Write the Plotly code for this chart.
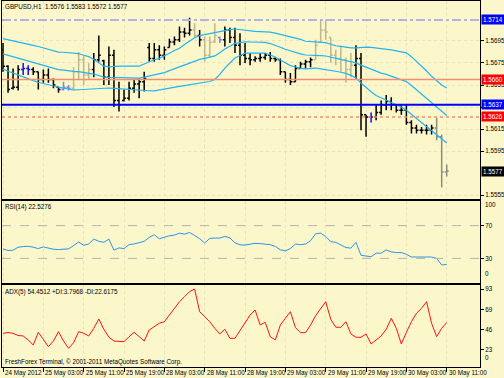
import plotly.graph_objects as go
from plotly.subplots import make_subplots

# ---------------- data ----------------
time_labels = ["24 May 2012", "25 May 03:00", "25 May 11:00", "25 May 19:00",
               "28 May 03:00", "28 May 11:00", "28 May 19:00", "29 May 03:00",
               "29 May 11:00", "29 May 19:00", "30 May 03:00", "30 May 11:00"]
label_bars = [0, 8, 16, 24, 32, 40, 48, 56, 64, 72, 80, 88]

opens = [1.5687, 1.5672, 1.5652, 1.5653, 1.5669, 1.5670, 1.5669, 1.5667, 1.5660, 1.5664,
         1.5660, 1.5653, 1.5651, 1.5653, 1.5652, 1.5667, 1.5678, 1.5664, 1.5669, 1.5678,
         1.5677, 1.5662, 1.5682, 1.5641, 1.5641, 1.5643, 1.5652, 1.5656, 1.5658, 1.5689,
         1.5679, 1.5687, 1.5682, 1.5689, 1.5694, 1.5696, 1.5703, 1.5702, 1.5705, 1.5700,
         1.5696, 1.5682, 1.5694, 1.5698, 1.5696, 1.5705, 1.5698, 1.5691, 1.5682, 1.5679,
         1.5678, 1.5679, 1.5680, 1.5682, 1.5679, 1.5678, 1.5667, 1.5660, 1.5658, 1.5670,
         1.5674, 1.5676, 1.5678, 1.5694, 1.5705, 1.5698, 1.5682, 1.5679, 1.5678, 1.5669,
         1.5673, 1.5679, 1.5628, 1.5626, 1.5626, 1.5630, 1.5637, 1.5640, 1.5637, 1.5632,
         1.5632, 1.5621, 1.5616, 1.5614, 1.5614, 1.5614, 1.5616, 1.5608, 1.5576]
highs = [1.5693, 1.5673, 1.5670, 1.5673, 1.5675, 1.5673, 1.5671, 1.5667, 1.5669, 1.5670,
         1.5661, 1.5653, 1.5658, 1.5655, 1.5671, 1.5685, 1.5682, 1.5675, 1.5684, 1.5700,
         1.5678, 1.5690, 1.5687, 1.5658, 1.5651, 1.5658, 1.5660, 1.5661, 1.5667, 1.5693,
         1.5693, 1.5691, 1.5690, 1.5697, 1.5699, 1.5708, 1.5707, 1.5716, 1.5711, 1.5705,
         1.5699, 1.5699, 1.5711, 1.5699, 1.5708, 1.5707, 1.5707, 1.5702, 1.5693, 1.5684,
         1.5681, 1.5684, 1.5684, 1.5685, 1.5680, 1.5679, 1.5667, 1.5666, 1.5673, 1.5676,
         1.5678, 1.5680, 1.5696, 1.5714, 1.5714, 1.5698, 1.5687, 1.5690, 1.5680, 1.5684,
         1.5691, 1.5684, 1.5628, 1.5630, 1.5637, 1.5641, 1.5646, 1.5644, 1.5637, 1.5637,
         1.5637, 1.5623, 1.5619, 1.5617, 1.5619, 1.5619, 1.5625, 1.5610, 1.5583]
lows = [1.5667, 1.5648, 1.5651, 1.5650, 1.5664, 1.5664, 1.5664, 1.5651, 1.5657, 1.5657,
        1.5652, 1.5648, 1.5650, 1.5650, 1.5651, 1.5660, 1.5655, 1.5660, 1.5662, 1.5676,
        1.5655, 1.5655, 1.5635, 1.5631, 1.5640, 1.5641, 1.5648, 1.5643, 1.5649, 1.5676,
        1.5676, 1.5678, 1.5678, 1.5689, 1.5691, 1.5694, 1.5698, 1.5700, 1.5698, 1.5690,
        1.5676, 1.5680, 1.5693, 1.5693, 1.5690, 1.5693, 1.5684, 1.5673, 1.5675, 1.5673,
        1.5676, 1.5676, 1.5678, 1.5676, 1.5676, 1.5664, 1.5657, 1.5655, 1.5658, 1.5670,
        1.5670, 1.5671, 1.5678, 1.5694, 1.5696, 1.5675, 1.5673, 1.5667, 1.5657, 1.5662,
        1.5661, 1.5614, 1.5608, 1.5621, 1.5623, 1.5628, 1.5632, 1.5632, 1.5630, 1.5628,
        1.5619, 1.5611, 1.5611, 1.5611, 1.5610, 1.5610, 1.5605, 1.5562, 1.5572]
closes = [1.5672, 1.5651, 1.5653, 1.5669, 1.5670, 1.5669, 1.5667, 1.5660, 1.5664, 1.5660,
          1.5655, 1.5651, 1.5653, 1.5652, 1.5667, 1.5678, 1.5664, 1.5669, 1.5678, 1.5682,
          1.5662, 1.5682, 1.5641, 1.5637, 1.5643, 1.5652, 1.5656, 1.5658, 1.5661, 1.5679,
          1.5687, 1.5682, 1.5687, 1.5694, 1.5696, 1.5703, 1.5702, 1.5705, 1.5700, 1.5696,
          1.5682, 1.5694, 1.5700, 1.5696, 1.5705, 1.5698, 1.5691, 1.5682, 1.5679, 1.5678,
          1.5679, 1.5680, 1.5682, 1.5679, 1.5678, 1.5667, 1.5660, 1.5658, 1.5670, 1.5674,
          1.5676, 1.5678, 1.5691, 1.5705, 1.5703, 1.5682, 1.5679, 1.5678, 1.5669, 1.5673,
          1.5679, 1.5628, 1.5626, 1.5626, 1.5630, 1.5637, 1.5640, 1.5637, 1.5632, 1.5632,
          1.5621, 1.5616, 1.5614, 1.5614, 1.5614, 1.5616, 1.5608, 1.5576, 1.5577]

bb_upper = [1.56971, 1.56962, 1.56953, 1.56944, 1.56933, 1.56922, 1.56910, 1.56899, 1.56887, 1.56873,
            1.56860, 1.56849, 1.56847, 1.56844, 1.56841, 1.56835, 1.56820, 1.56807, 1.56782, 1.56755,
            1.56721, 1.56714, 1.56719, 1.56722, 1.56722, 1.56722, 1.56722, 1.56722, 1.56741, 1.56763,
            1.56779, 1.56792, 1.56813, 1.56838, 1.56863, 1.56884, 1.56917, 1.56946, 1.56978, 1.56998,
            1.57008, 1.57018, 1.57028, 1.57038, 1.57049, 1.57053, 1.57058, 1.57051, 1.57044, 1.57039,
            1.57036, 1.57034, 1.57032, 1.57029, 1.57020, 1.57009, 1.57000, 1.56989, 1.56976, 1.56964,
            1.56947, 1.56943, 1.56940, 1.56936, 1.56934, 1.56920, 1.56906, 1.56900, 1.56892, 1.56887,
            1.56887, 1.56891, 1.56894, 1.56891, 1.56887, 1.56882, 1.56878, 1.56869, 1.56860, 1.56851,
            1.56842, 1.56807, 1.56765, 1.56722, 1.56677, 1.56629, 1.56589, 1.56550, 1.56523]
bb_middle = [1.56832, 1.56819, 1.56805, 1.56792, 1.56778, 1.56764, 1.56750, 1.56737, 1.56725, 1.56712,
             1.56700, 1.56690, 1.56685, 1.56678, 1.56673, 1.56671, 1.56665, 1.56660, 1.56649, 1.56636,
             1.56621, 1.56619, 1.56620, 1.56619, 1.56617, 1.56615, 1.56614, 1.56612, 1.56621, 1.56631,
             1.56638, 1.56648, 1.56663, 1.56680, 1.56697, 1.56711, 1.56731, 1.56749, 1.56769, 1.56782,
             1.56792, 1.56800, 1.56814, 1.56843, 1.56877, 1.56902, 1.56927, 1.56935, 1.56942, 1.56940,
             1.56938, 1.56937, 1.56936, 1.56926, 1.56912, 1.56893, 1.56874, 1.56858, 1.56845, 1.56833,
             1.56822, 1.56822, 1.56822, 1.56817, 1.56813, 1.56802, 1.56791, 1.56783, 1.56774, 1.56762,
             1.56751, 1.56730, 1.56711, 1.56690, 1.56671, 1.56658, 1.56646, 1.56630, 1.56616, 1.56601,
             1.56581, 1.56545, 1.56506, 1.56467, 1.56427, 1.56387, 1.56348, 1.56306, 1.56274]
bb_lower = [1.56693, 1.56675, 1.56657, 1.56639, 1.56623, 1.56606, 1.56590, 1.56575, 1.56562, 1.56551,
            1.56540, 1.56530, 1.56522, 1.56512, 1.56505, 1.56507, 1.56510, 1.56513, 1.56516, 1.56517,
            1.56520, 1.56523, 1.56520, 1.56516, 1.56512, 1.56508, 1.56505, 1.56502, 1.56500, 1.56498,
            1.56496, 1.56503, 1.56512, 1.56521, 1.56530, 1.56537, 1.56545, 1.56551, 1.56559, 1.56566,
            1.56575, 1.56582, 1.56600, 1.56647, 1.56704, 1.56750, 1.56795, 1.56818, 1.56840, 1.56840,
            1.56840, 1.56840, 1.56840, 1.56822, 1.56804, 1.56776, 1.56748, 1.56726, 1.56713, 1.56701,
            1.56697, 1.56701, 1.56704, 1.56697, 1.56691, 1.56684, 1.56675, 1.56666, 1.56655, 1.56637,
            1.56614, 1.56568, 1.56527, 1.56489, 1.56455, 1.56434, 1.56413, 1.56391, 1.56371, 1.56350,
            1.56320, 1.56283, 1.56247, 1.56211, 1.56177, 1.56144, 1.56107, 1.56062, 1.56024]

rsi = [41.6, 39.6, 40.0, 43.6, 44.4, 44.8, 43.6, 42.0, 44.0, 42.4,
       41.2, 40.8, 40.8, 41.6, 45.6, 50.0, 46.0, 47.6, 53.6, 50.8,
       49.6, 53.6, 40.0, 42.8, 42.0, 46.8, 47.6, 48.8, 50.8, 55.6,
       58.8, 54.0, 56.0, 57.6, 58.4, 60.8, 59.6, 61.6, 58.0, 54.0,
       48.8, 54.4, 54.8, 54.8, 56.8, 55.0, 49.0, 46.5, 46.3, 47.5,
       48.3, 48.0, 47.5, 46.7, 44.6, 40.5, 39.2, 42.0, 47.5, 46.7,
       47.5, 51.7, 60.0, 60.8, 56.7, 50.4, 49.6, 46.7, 43.3, 42.5,
       49.6, 33.8, 32.9, 32.0, 36.3, 36.3, 40.4, 37.9, 37.1, 37.1,
       35.0, 31.7, 31.7, 31.7, 32.0, 31.7, 30.0, 22.0, 22.5276]
adx = [42.0, 43.0, 42.0, 39.5, 39.0, 34.4, 28.6, 43.2, 35.2, 26.7,
       33.2, 43.9, 33.2, 24.8, 31.3, 43.9, 42.1, 39.0, 47.8, 58.5,
       46.7, 37.5, 33.2, 32.4, 32.4, 38.2, 43.2, 38.2, 33.2, 45.9,
       49.7, 53.6, 55.4, 63.1, 70.8, 78.4, 84.1, 89.9, 93.0, 66.9,
       61.2, 55.4, 47.8, 41.3, 46.7, 36.3, 36.3, 45.0, 53.6, 63.1,
       68.9, 51.6, 54.7, 38.2, 34.4, 51.6, 59.3, 66.9, 48.5, 42.8,
       42.8, 51.6, 62.3, 70.8, 78.4, 58.2, 49.0, 49.0, 55.4, 41.3,
       37.5, 37.5, 41.3, 29.8, 34.4, 39.0, 46.7, 59.3, 47.8, 29.8,
       43.2, 55.4, 65.1, 70.8, 78.4, 53.6, 38.2, 47.8, 54.4512]

price_ticks = [1.5695, 1.5675, 1.5655, 1.5635, 1.5615, 1.5595, 1.5555]
rsi_levels = [70, 30]
rsi_ticks = [70, 30]
adx_ticks = [93, 69, 46, 23]

level_lines = [1.5714, 1.5660, 1.5637, 1.5626]
current_price = 1.5577

title_text = "GBPUSD,H1  1.5576 1.5583 1.5572 1.5577"
rsi_text = "RSI(14) 22.5276"
adx_text = "ADX(5) 54.4512 +DI:3.7968 -DI:22.6175"
copyright_text = "FreshForex Terminal, © 2001-2011 MetaQuotes Software Corp."

# ---------------- styles ----------------
BG = "#FCF7CB"
FONT = "Liberation Sans, Arial, sans-serif"
FS = 6.3
bar_groups = {
    "#000000": None,  # default
    "#BDB78D": [14, 15, 16, 17, 38, 40, 41, 42, 62, 63, 64, 65, 66, 67, 68, 69],
    "#1010F0": [4, 5, 73],
    "#8080F0": [12, 13, 43],
    "#8C8C84": [86, 87, 88],
}
level_styles = [
    dict(color="#AEB4E4", width=2, dash="dashdot", box="#0000FF"),
    dict(color="#F28E72", width=1.3, dash="solid", box="#FF0000"),
    dict(color="#0000FF", width=2, dash="solid", box="#0000FF"),
    dict(color="#F28E72", width=1.3, dash="dot", box="#FF0000"),
]

n = len(closes)
xs = list(range(n))

fig = make_subplots(rows=3, cols=1, shared_xaxes=True, vertical_spacing=0)

# Bollinger bands
for band in (bb_upper, bb_middle, bb_lower):
    fig.add_trace(go.Scatter(x=xs, y=band, mode="lines",
                             line=dict(color="#22B4EE", width=1.2),
                             hoverinfo="skip", showlegend=False), row=1, col=1)

# OHLC bars by colour group
special = set()
for c, idx in bar_groups.items():
    if idx:
        special.update(idx)
for c, idx in bar_groups.items():
    if idx is None:
        idx = [i for i in xs if i not in special]
    fig.add_trace(go.Ohlc(x=idx,
                          open=[opens[i] for i in idx], high=[highs[i] for i in idx],
                          low=[lows[i] for i in idx], close=[closes[i] for i in idx],
                          increasing=dict(line=dict(color=c, width=1.5)),
                          decreasing=dict(line=dict(color=c, width=1.5)),
                          tickwidth=0.4, hoverinfo="skip", showlegend=False),
                  row=1, col=1)

# RSI
fig.add_trace(go.Scatter(x=xs, y=rsi, mode="lines", line=dict(color="#2A94EC", width=1),
                         hoverinfo="skip", showlegend=False), row=2, col=1)
# ADX
fig.add_trace(go.Scatter(x=xs, y=adx, mode="lines", line=dict(color="#FF1010", width=1),
                         hoverinfo="skip", showlegend=False), row=3, col=1)

# horizontal levels
for val, st in zip(level_lines, level_styles):
    fig.add_hline(y=val, line=dict(color=st["color"], width=st["width"], dash=st["dash"]),
                  row=1, col=1)
for lv in rsi_levels:
    fig.add_hline(y=lv, line=dict(color="#B4B4AA", width=1, dash="dash"), row=2, col=1)

# price label boxes
for val, st in zip(level_lines, level_styles):
    fig.add_annotation(xref="paper", x=1, xanchor="left", xshift=1, yref="y", y=val,
                       text="%.4f" % val, showarrow=False, bgcolor=st["box"],
                       font=dict(color="white", size=FS, family=FONT), borderpad=1)
fig.add_annotation(xref="paper", x=1, xanchor="left", xshift=1, yref="y", y=current_price,
                   text="%.4f" % current_price, showarrow=False, bgcolor="#000000",
                   font=dict(color="white", size=FS, family=FONT), borderpad=1)

# layout geometry
H_TOP, H_BOT = 1, 367
PH = H_BOT - H_TOP
def py(px):
    return (H_BOT - px) / PH

grid = dict(showgrid=True, gridcolor="#E8E2BC", griddash="dot", gridwidth=1)
axis_line = dict(showline=True, linecolor="#000000", linewidth=1, mirror=True)
tickfont = dict(size=FS, family=FONT, color="#000000")

for r in (1, 2, 3):
    fig.update_xaxes(row=r, col=1, range=[-0.2, 94.6], tickmode="array", tickvals=label_bars,
                     showticklabels=False, rangeslider_visible=False, zeroline=False,
                     automargin=False,
                     ticks="outside" if r == 3 else "", ticklen=4, tickcolor="#000",
                     **grid, **axis_line)

fig.update_yaxes(row=1, col=1, domain=[py(199), py(H_TOP)], range=[1.55516, 1.57312],
                 side="right", tickmode="array", tickvals=price_ticks, tickformat=".4f",
                 ticks="outside", ticklen=3, tickcolor="#000", tickfont=tickfont,
                 automargin=False, zeroline=False, **grid, **axis_line)
fig.update_yaxes(row=2, col=1, domain=[py(283), py(201)], range=[0, 100],
                 side="right", tickmode="array", tickvals=rsi_ticks,
                 ticks="outside", ticklen=3, tickcolor="#000", tickfont=tickfont,
                 automargin=False, zeroline=False, showgrid=False, **axis_line)
fig.update_yaxes(row=3, col=1, domain=[py(H_BOT), py(285)], range=[3.3, 97.6],
                 side="right", tickmode="array", tickvals=adx_ticks,
                 ticks="outside", ticklen=3, tickcolor="#000", tickfont=tickfont,
                 automargin=False, zeroline=False, showgrid=False, **axis_line)

# edge labels of indicator scales
for txt, ypx in (("100", 205), ("0", 279), ("0", 363)):
    fig.add_annotation(xref="paper", x=1, xanchor="left", xshift=3, yref="paper", y=py(ypx),
                       text=txt, showarrow=False, font=tickfont)

# captions
for txt, ypx in ((title_text, 6), (rsi_text, 207), (adx_text, 292), (copyright_text, 362)):
    fig.add_annotation(xref="paper", x=0, xanchor="left", xshift=1, yref="paper", y=py(ypx),
                       yanchor="middle", text=txt, showarrow=False, font=tickfont)

# time labels
for b, txt in zip(label_bars, time_labels):
    fig.add_annotation(xref="x3", x=b, xanchor="left", xshift=0, yref="paper", y=py(372.5),
                       yanchor="middle", text=txt, showarrow=False, font=tickfont)

fig.update_layout(width=504, height=378,
                  margin=dict(l=2, r=24, t=H_TOP, b=378 - H_BOT, pad=0, autoexpand=False),
                  paper_bgcolor=BG, plot_bgcolor=BG, showlegend=False,
                  font=dict(family=FONT, size=FS))

fig.write_html("out.html", config={"displayModeBar": False},
               post_script="document.body.style.margin='0';document.body.style.padding='0';"
                           "document.body.style.overflow='hidden';")
